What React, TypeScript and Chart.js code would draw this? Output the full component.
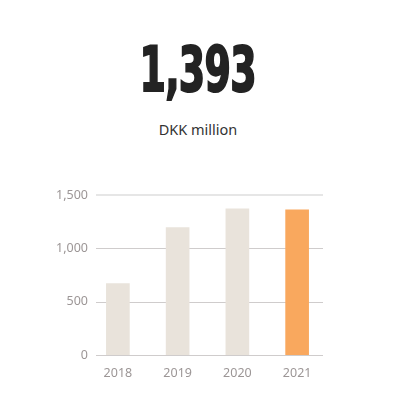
import React, { useEffect, useRef } from "react";
import { Chart, registerables } from "chart.js";

Chart.register(...registerables);

const headline = "1,393";
const unitLabel = "DKK million";
const categories = ["2018", "2019", "2020", "2021"];
const values = [670, 1195, 1370, 1362];
const barColors = ["#e9e3db", "#e9e3db", "#e9e3db", "#f9a85e"];
const yTicks = [0, 500, 1000, 1500];

const gridPlugin = {
  id: "insetGrid",
  beforeDatasetsDraw(chart: any) {
    const { ctx, chartArea, scales } = chart;
    const y = scales.y;
    ctx.save();
    yTicks.forEach((v) => {
      const py = Math.round(y.getPixelForValue(v));
      const top = v === yTicks[yTicks.length - 1];
      ctx.strokeStyle = top ? "#e6e6e6" : "#cfcccc";
      ctx.lineWidth = top ? 2 : 1;
      ctx.beginPath();
      const off = top ? 0 : 0.5;
      ctx.moveTo(chartArea.left + 8, py + off);
      ctx.lineTo(chartArea.right - 4, py + off);
      ctx.stroke();
    });
    ctx.restore();
  },
};

export default function App() {
  const ref = useRef<HTMLCanvasElement>(null);
  useEffect(() => {
    if (!ref.current) return;
    const chart = new Chart(ref.current, {
      type: "bar",
      data: {
        labels: categories,
        datasets: [
          {
            data: values,
            backgroundColor: barColors,
            borderWidth: 0,
            barThickness: 23,
          },
        ],
      },
      plugins: [gridPlugin],
      options: {
        animation: false,
        responsive: false,
        maintainAspectRatio: false,
        layout: { padding: { left: 0, top: 15, right: 69, bottom: 0 } },
        plugins: { legend: { display: false }, tooltip: { enabled: false } },
        scales: {
          x: {
            grid: { display: false, drawTicks: false },
            border: { display: false },
            ticks: {
              color: "#9c9696",
              font: { family: "'Noto Sans', sans-serif", size: 12.5 },
              padding: 11,
            },
            afterFit: (s: any) => {
              s.height = 45;
            },
          },
          y: {
            min: 0,
            max: 1500,
            grid: { display: false, drawTicks: false },
            border: { display: false },
            ticks: {
              stepSize: 500,
              color: "#9c9696",
              font: { family: "'Noto Sans', sans-serif", size: 12.5 },
              padding: 0,
            },
            afterFit: (s: any) => {
              s.width = 88;
            },
          },
        },
      },
    });
    return () => chart.destroy();
  }, []);

  return (
    <div
      style={{
        position: "absolute",
        left: 0,
        top: 0,
        width: 396,
        height: 417,
        background: "#fff",
        overflow: "hidden",
      }}
    >
      <div
        style={{
          position: "absolute",
          left: 0,
          width: 396,
          top: 30,
          textAlign: "center",
          fontFamily: "'DejaVu Sans Condensed', 'DejaVu Sans', sans-serif",
          fontWeight: 700,
          fontSize: 62,
          lineHeight: "80px",
          color: "#232323",
        }}
      >
        <span
          style={{
            display: "inline-block",
            transform: "scaleX(0.68)",
            transformOrigin: "center",
            letterSpacing: "-1px",
            WebkitTextStroke: "2px #232323",
          }}
        >
          {headline}
        </span>
      </div>
      <div
        style={{
          position: "absolute",
          left: 0,
          width: 396,
          top: 119,
          textAlign: "center",
          fontFamily: "'Noto Sans', sans-serif",
          fontSize: 14.5,
          lineHeight: "20px",
          color: "#333",
        }}
      >
        {unitLabel}
      </div>
      <canvas
        ref={ref}
        width={396}
        height={220}
        style={{ position: "absolute", left: 0, top: 180, width: 396, height: 220 }}
      />
    </div>
  );
}
